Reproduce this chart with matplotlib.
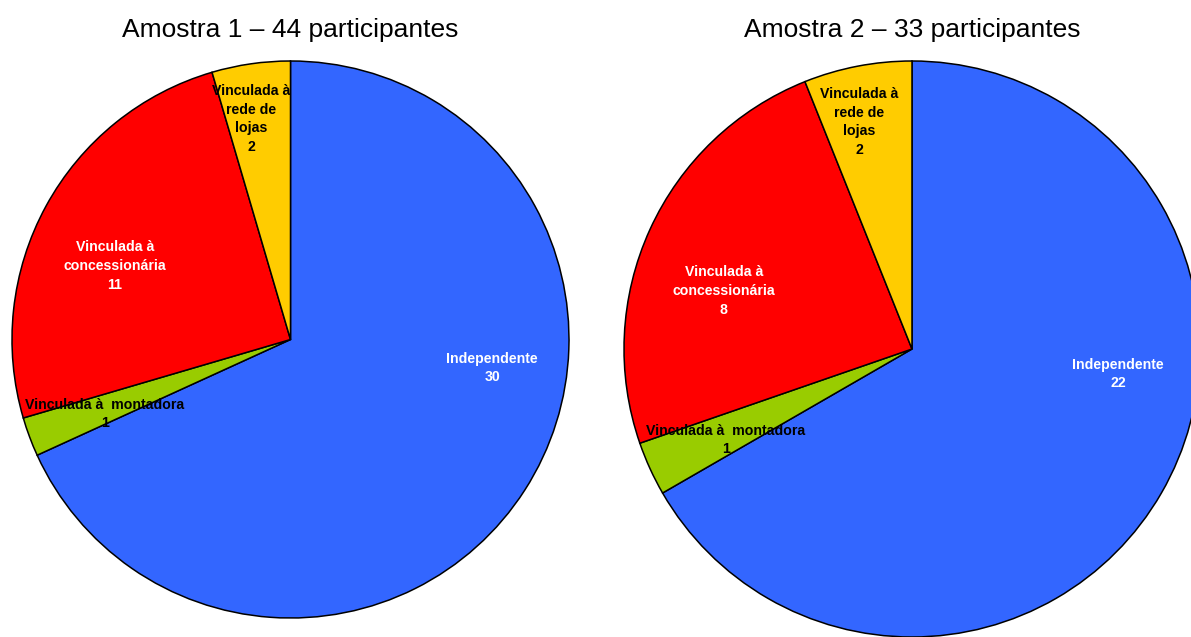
import matplotlib
matplotlib.use("Agg")
import matplotlib.pyplot as plt

plt.rcParams["font.family"] = ["Liberation Sans", "DejaVu Sans"]

# Categories (clockwise from 12 o'clock)
categories = [
    "Independente",
    "Vinculada à  montadora",
    "Vinculada à\nconcessionária",
    "Vinculada à\nrede de\nlojas",
]
amostra1_values = [30, 1, 11, 2]
amostra2_values = [22, 1, 8, 2]
titles = ["Amostra 1 – 44 participantes", "Amostra 2 – 33 participantes"]

colors = ["#3366FF", "#99CC00", "#FF0000", "#FFCC00"]
text_colors = ["white", "black", "white", "black"]

W, H = 1191, 637
fig = plt.figure(figsize=(W / 100, H / 100), dpi=100)
fig.patch.set_facecolor("white")

# Pie centres and radii in pixels, label anchors in units of radius
layouts = [
    dict(cx=290.5, cy=339.5, r=278.5,
         label_pos=[(0.724, -0.102), (-0.666, -0.268), (-0.630, 0.264), (-0.142, 0.792)]),
    dict(cx=912.0, cy=349.0, r=288.0,
         label_pos=[(0.715, -0.087), (-0.646, -0.316), (-0.653, 0.201), (-0.184, 0.788)]),
]

for values, title, lay in zip([amostra1_values, amostra2_values], titles, layouts):
    cx, cy, r = lay["cx"], lay["cy"], lay["r"]
    ax = fig.add_axes([(cx - r) / W, (H - cy - r) / H, 2 * r / W, 2 * r / H])
    ax.pie(values, colors=colors, startangle=90, counterclock=False, radius=1,
           wedgeprops=dict(edgecolor="black", linewidth=1.1, clip_on=False))
    ax.set_xlim(-1, 1)
    ax.set_ylim(-1, 1)
    ax.set_aspect("equal", adjustable="box")
    ax.axis("off")
    for cat, val, (lx, ly), tc in zip(categories, values, lay["label_pos"], text_colors):
        ax.text(lx, ly, f"{cat}\n{val}", ha="center", va="center", color=tc,
                fontsize=10.2, fontweight="bold", linespacing=1.42, clip_on=False)
    fig.text(cx / W, 1 - 37 / H, title, ha="center", va="baseline",
             fontsize=19, color="black")

fig.savefig("out.png", dpi=100, facecolor="white")
